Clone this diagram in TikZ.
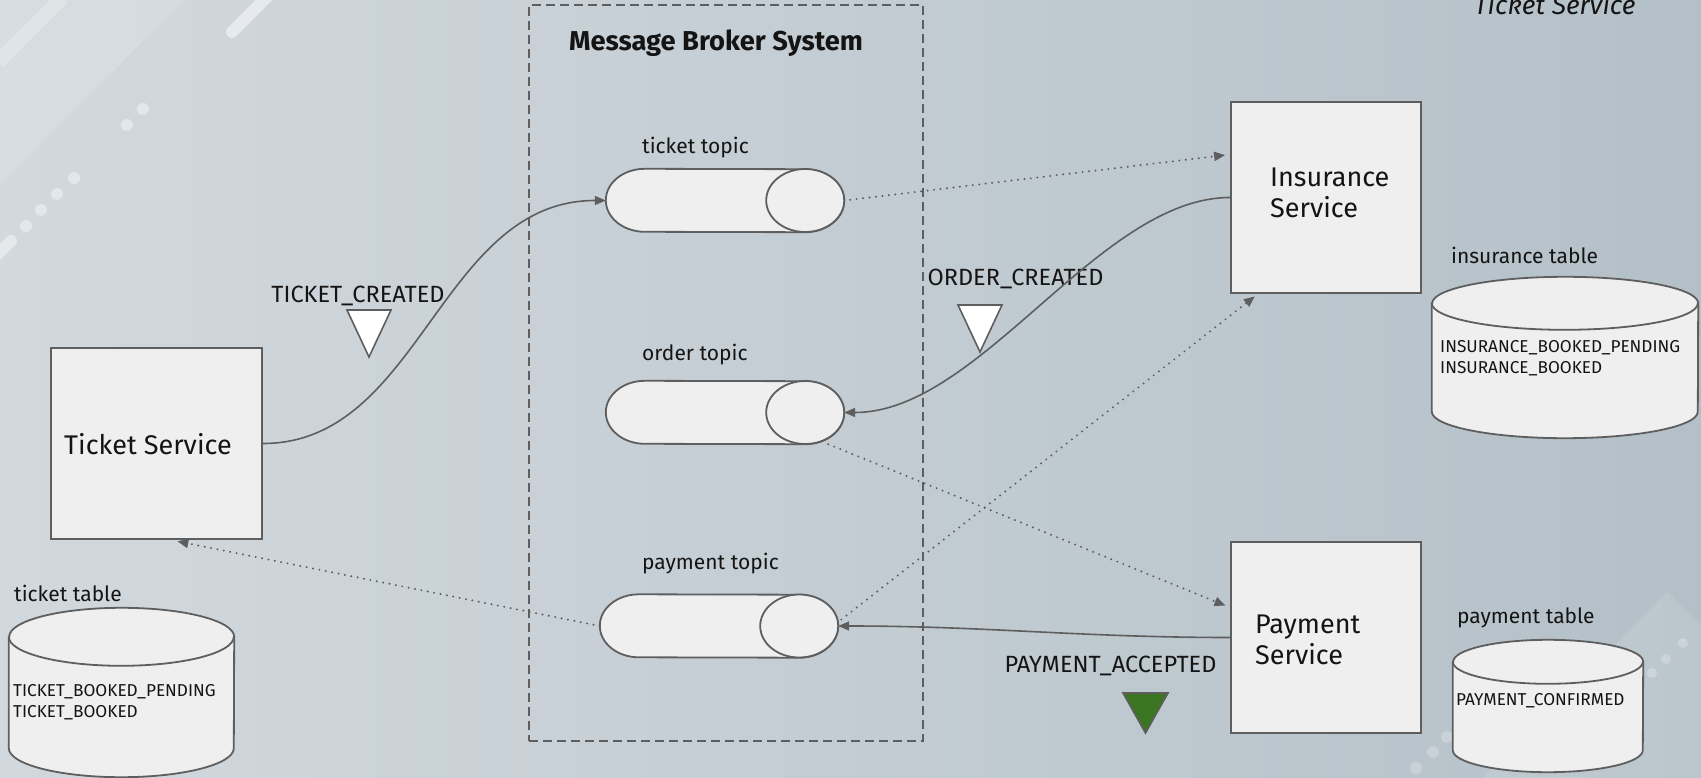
\documentclass[tikz,border=0pt]{standalone}
\usepackage{fontspec}
\setmainfont{Fira Sans}
\usetikzlibrary{arrows.meta}

\definecolor{bgleft}{HTML}{D2D9DE}
\definecolor{bgright}{HTML}{B4C0C8}
\definecolor{boxfill}{HTML}{EFEFEF}
\definecolor{edge}{HTML}{5E5E5E}
\definecolor{ink}{HTML}{141414}
\definecolor{okgreen}{HTML}{3B7522}

\tikzset{
  svcbox/.style={draw=edge, fill=boxfill, line width=1.8pt, inner sep=0pt,
    minimum width=190pt, minimum height=191pt},
  svctext/.style={font=\fontsize{27}{31}\selectfont, text=ink, align=left,
    inner sep=0pt, anchor=west},
  evtext/.style={font=\fontsize{23.5}{27}\selectfont, text=ink, inner sep=0pt},
  lbltext/.style={font=\fontsize{21}{25}\selectfont, text=ink, inner sep=0pt, anchor=west},
  dbtext/.style={font=\fontsize{17.2}{21}\selectfont, text=ink, align=left,
    inner sep=0pt, anchor=west},
  titletext/.style={font=\bfseries\fontsize{27.3}{31}\selectfont, text=ink, inner sep=0pt},
  area/.style={draw=none, fill=none, inner sep=0pt},
  shapeline/.style={draw=edge, fill=boxfill, line width=1.8pt},
  flow/.style={draw=edge, line width=1.6pt, -{Triangle[length=11pt,width=9pt]}},
  async/.style={draw=edge, line width=2.2pt, dash pattern=on 0pt off 6.5pt,
    line cap=round, -{Triangle[length=11pt,width=9pt]}},
  broker/.style={draw=edge, line width=1.6pt, dash pattern=on 9pt off 5pt,
    minimum width=394pt, minimum height=736pt, inner sep=0pt},
  marker/.style={draw=edge, line width=1.6pt, line join=miter},
  deco/.style={white, opacity=0.4}
}

% horizontal topic: half-ellipse on the left, full ellipse on the right
\newcommand{\drawtopic}[3]{%
  \filldraw[shapeline] ([xshift=#2]#1.north west)
    arc[start angle=90, end angle=270, x radius=#2, y radius=#3]
    -- ([xshift=-#2]#1.south east)
    arc[start angle=-90, end angle=90, x radius=#2, y radius=#3] -- cycle;
  \draw[shapeline] ([xshift=-#2]#1.east) ellipse[x radius=#2, y radius=#3];
}
% upright database cylinder
\newcommand{\drawdb}[3]{%
  \filldraw[shapeline] ([yshift=-#3]#1.north west) -- ([yshift=#3]#1.south west)
    arc[start angle=180, end angle=360, x radius=#2, y radius=#3]
    -- ([yshift=-#3]#1.north east)
    arc[start angle=0, end angle=180, x radius=#2, y radius=#3] -- cycle;
  \draw[shapeline, fill=none] ([yshift=-#3]#1.north west)
    arc[start angle=180, end angle=360, x radius=#2, y radius=#3];
}

\begin{document}
\begin{tikzpicture}[x=1pt, y=-1pt]
\useasboundingbox (0,0) rectangle (1701,778);

% backdrop
\shade[left color=bgleft, right color=bgright] (0,0) rectangle (1701,778);
\fill[white, opacity=0.13] (0,0) -- (185,0) -- (0,185) -- cycle;
\draw[white, opacity=0.22, line width=14pt] (62,-2) -- (-2,62);
\draw[deco, opacity=0.5, line width=12pt, line cap=round] (232,32) -- (268,-4);
\fill[deco] (143,109) circle[radius=6pt] (127,125) circle[radius=6pt]
  (74,178) circle[radius=6pt] (57,194) circle[radius=6pt]
  (41,210) circle[radius=6pt] (26,226) circle[radius=6pt];
\draw[deco, line width=12pt, line cap=round] (11,241) -- (-10,262);
\fill[white, opacity=0.1] (1667,592) -- (1720,645) -- (1720,790) -- (1470,790) -- cycle;
\fill[white, opacity=0.25] (1683,643) circle[radius=5pt] (1666,659) circle[radius=5pt]
  (1652,673) circle[radius=5pt] (1447,737) circle[radius=6pt]
  (1433,752) circle[radius=6pt] (1416,768) circle[radius=6pt];

% message broker
\node[broker] (mbs) at (726,373) {};
\node[titletext] (title) at (716,43) {Message Broker System};

\node[area, minimum width=238pt, minimum height=63pt] (tt) at (725,200.5) {};
\node[area, minimum width=238pt, minimum height=63pt] (ot) at (725,412.5) {};
\node[area, minimum width=238pt, minimum height=63pt] (pt) at (719,626) {};
\drawtopic{tt}{39pt}{31.5pt}
\drawtopic{ot}{39pt}{31.5pt}
\drawtopic{pt}{39pt}{31.5pt}
\node[lbltext] (ttl) at (642,148) {ticket topic};
\node[lbltext] (otl) at (642,355) {order topic};
\node[lbltext] (ptl) at (642,564) {payment topic};

% services
\node[svcbox, minimum width=211pt] (ts) at (156.5,443.5) {};
\node[svctext] (tstxt) at (64,444) {Ticket Service};
\node[svcbox] (is) at (1326,197.5) {};
\node[svctext] (istxt) at (1270,192.5) {Insurance\\Service};
\node[svcbox] (ps) at (1326,637.5) {};
\node[svctext] (pstxt) at (1255,639.5) {Payment\\Service};

% tables
\node[area, minimum width=225pt, minimum height=169pt] (tdb) at (121.5,692.5) {};
\drawdb{tdb}{112.5pt}{29pt}
\node[lbltext] (tdbl) at (14,593) {ticket table};
\node[dbtext] (tdbt) at (13,702.5) {TICKET\_BOOKED\_PENDING\\TICKET\_BOOKED};

\node[area, minimum width=266pt, minimum height=161pt] (idb) at (1565,357.5) {};
\drawdb{idb}{133pt}{26.5pt}
\node[lbltext] (idbl) at (1451,255) {insurance table};
\node[dbtext] (idbt) at (1440,358) {INSURANCE\_BOOKED\_PENDING\\INSURANCE\_BOOKED};

\node[area, minimum width=190pt, minimum height=132pt] (pdb) at (1548,706) {};
\drawdb{pdb}{95pt}{22pt}
\node[lbltext] (pdbl) at (1457,618) {payment table};
\node[dbtext] (pdbt) at (1456,701) {PAYMENT\_CONFIRMED};

% events
\node[evtext] (ev1) at (358,296) {TICKET\_CREATED};
\draw[marker, fill=white] (347,310) -- (391,310) -- (369,357) -- cycle;
\node[evtext] (ev2) at (1015.5,279) {ORDER\_CREATED};
\draw[marker, fill=white] (958,305) -- (1002,305) -- (980,352) -- cycle;
\node[evtext] (ev3) at (1110.5,666) {PAYMENT\_ACCEPTED};
\draw[marker, fill=okgreen] (1123,693) -- (1168,693) -- (1145.5,733) -- cycle;

% connectors
\draw[flow] (ts.east) .. controls +(158,0) and +(-166,0) .. (tt.west);
\draw[async, shorten <=6pt, shorten >=5pt] (tt.east) -- ([yshift=43pt]is.west);
\draw[flow] (is.west) .. controls +(-131,0) and +(136,0) .. (ot.east);
\draw[async, shorten >=5pt] ([xshift=-16pt]ot.south east) -- ([yshift=30pt]ps.west);
\draw[flow] (ps.west) .. controls +(-150,0) and +(150,0) .. (pt.east);
\draw[async, shorten <=4pt, shorten >=4pt] ([yshift=4pt]pt.east) -- ([xshift=-68pt]is.south);
\draw[async, shorten >=7pt] (pt.west) -- ([xshift=14pt]ts.south);

\node[font=\itshape\fontsize{26.4}{31}\selectfont, text=ink, anchor=base west, inner sep=0pt] (hdr) at (1474,15) {Ticket Service};
\end{tikzpicture}
\end{document}
